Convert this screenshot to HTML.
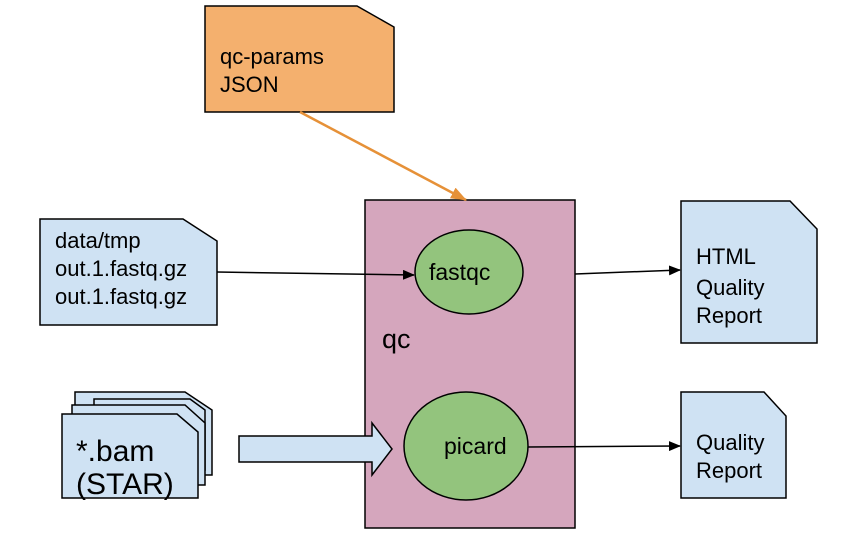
<!DOCTYPE html>
<html><head><style>body{margin:0;background:#fff}svg{display:block}text{font-family:"Liberation Sans",Arial,sans-serif;fill:#000}</style></head>
<body>
<svg width="862" height="546" viewBox="0 0 862 546" xmlns="http://www.w3.org/2000/svg">
<defs>
<marker id="a" markerWidth="12" markerHeight="10" refX="11" refY="5" orient="auto" markerUnits="userSpaceOnUse"><path d="M0,0 L12,5 L0,10 z" fill="#000"/></marker>
<marker id="o" markerWidth="16" markerHeight="12" refX="15" refY="6" orient="auto" markerUnits="userSpaceOnUse"><path d="M0,0 L16,6 L0,12 z" fill="#e69138"/></marker>
</defs>
<g stroke="#000" stroke-width="1.5">
<path d="M205,6 H357 L394,27 V112 H205 Z" fill="#f4b06e"/>
<rect x="365" y="200" width="210" height="328" fill="#d5a6bd"/>
<path d="M40,219 H183 L217,241 V325 H40 Z" fill="#cfe2f3"/>
<path d="M681,201 H790 L817,229 V343 H681 Z" fill="#cfe2f3"/>
<path d="M681,392 H764 L786,416 V498 H681 Z" fill="#cfe2f3"/>
<path d="M75,392 H185 L212,410 V475 H75 Z" fill="#cfe2f3"/>
<path d="M94,399 H190 L205,410 V470 H94 Z" fill="#cfe2f3"/>
<path d="M72,405 H185 L205,423 V485 H72 Z" fill="#cfe2f3"/>
<path d="M62,414 H177 L198,432 V498 H62 Z" fill="#cfe2f3"/>
<path d="M239,436 H372 V423 L392,449 L372,475 V462 H239 Z" fill="#cfe2f3"/>
<ellipse cx="469" cy="272" rx="54" ry="42" fill="#93c47d"/>
<ellipse cx="466" cy="446" rx="62" ry="54" fill="#93c47d"/>
<line x1="217" y1="272" x2="414" y2="275" marker-end="url(#a)"/>
<line x1="575" y1="274" x2="680" y2="270" marker-end="url(#a)"/>
<line x1="528" y1="447" x2="680" y2="446" marker-end="url(#a)"/>
</g>
<line x1="300" y1="112" x2="466" y2="200" stroke="#e69138" stroke-width="2.5" marker-end="url(#o)"/>
<g font-size="22">
<text x="220" y="64">qc-params</text><text x="220" y="92">JSON</text>
<text x="55" y="248">data/tmp</text><text x="55" y="276">out.1.fastq.gz</text><text x="55" y="304">out.1.fastq.gz</text>
<text x="429" y="280" font-size="23">fastqc</text>
<text x="444" y="454" font-size="23">picard</text>
<text x="696" y="264">HTML</text><text x="696" y="295">Quality</text><text x="696" y="323">Report</text>
<text x="696" y="450">Quality</text><text x="696" y="478">Report</text>
</g>
<text x="382" y="348" font-size="27">qc</text>
<text x="76" y="461" font-size="30">*.bam</text><text x="76" y="494" font-size="30">(STAR)</text>
</svg>
</body></html>
